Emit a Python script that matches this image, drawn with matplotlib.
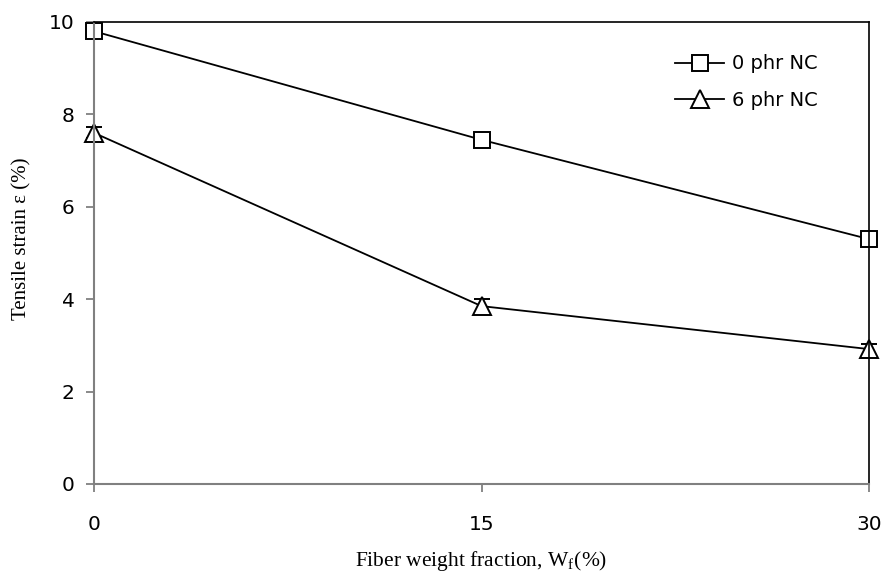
import matplotlib
matplotlib.use('Agg')
import matplotlib.pyplot as plt

# data
fiber = [0, 15, 30]
strain_0nc = [9.8, 7.45, 5.3]
err_0nc = [0.06, 0.12, 0.12]
strain_6nc = [7.6, 3.85, 2.92]
err_6nc = [0.12, 0.15, 0.12]
labels = ['0 phr NC', '6 phr NC']

plt.rcParams['mathtext.fontset'] = 'stix'

fig = plt.figure(figsize=(8.81, 5.74), dpi=100)
ax = fig.add_axes([0.1067, 0.1568, 0.8797, 0.8049])

ax.errorbar(fiber, strain_0nc, yerr=err_0nc, color='black', lw=1.3,
            marker='s', ms=12, mfc='white', mec='black', mew=1.4,
            ecolor='black', elinewidth=1.3, capsize=6, capthick=1.3, label=labels[0])
ax.errorbar(fiber, strain_6nc, yerr=err_6nc, color='black', lw=1.3,
            marker='^', ms=12.5, mfc='white', mec='black', mew=1.4,
            ecolor='black', elinewidth=1.3, capsize=6, capthick=1.3, label=labels[1])

ax.set_xlim(0, 30)
ax.set_ylim(0, 10)
ax.set_xticks([0, 15, 30])
ax.set_yticks([0, 2, 4, 6, 8, 10])

for s in ['left', 'bottom']:
    ax.spines[s].set_color('#808080')
    ax.spines[s].set_linewidth(1.5)
for s in ['top', 'right']:
    ax.spines[s].set_color('black')
    ax.spines[s].set_linewidth(1.2)
ax.tick_params(axis='both', direction='out', length=6, width=1.3, color='#808080',
               labelsize=14.5)
ax.tick_params(axis='x', pad=16)
ax.tick_params(axis='y', pad=8)
for t in ax.get_xticklabels() + ax.get_yticklabels():
    t.set_family('DejaVu Sans')

ax.set_xlabel(r'Fiber weight fraction, W$_{\mathregular{f}}$(%)', family='Liberation Serif',
              fontsize=15.5, labelpad=11)
ax.set_ylabel('Tensile strain ε (%)', family='Liberation Serif', fontsize=15)
ax.yaxis.set_label_coords(-0.081, 0.53)

handles, labs = ax.get_legend_handles_labels()
handles = [h[0] for h in handles]
ax.legend(handles, labs, loc='upper right', bbox_to_anchor=(0.956, 0.9675), frameon=False,
          fontsize=14, handlelength=2.5, handletextpad=0.4, labelspacing=0.9)

for ln in ax.lines:
    ln.set_clip_on(False)

fig.savefig('out.png', dpi=100)
